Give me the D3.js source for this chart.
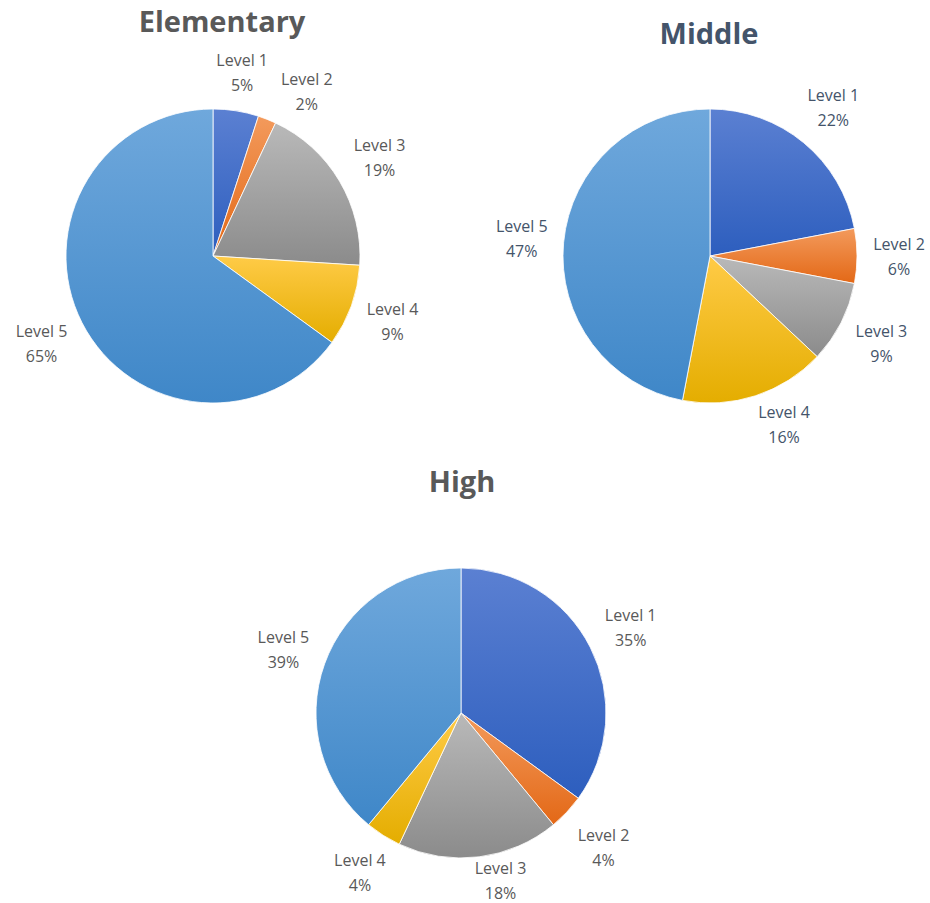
<!DOCTYPE html>
<html>
<head>
<meta charset="utf-8">
<script src="https://cdn.jsdelivr.net/npm/d3@7"></script>
<style>
  html, body { margin: 0; padding: 0; background: #fff; }
  svg { display: block; }
</style>
</head>
<body>
<svg id="chart" width="930" height="903"></svg>
<script>
// Share of students at each level, by school type (percent)
const levels = ["Level 1", "Level 2", "Level 3", "Level 4", "Level 5"];
const elementaryValues = [5, 2, 19, 9, 65];
const middleValues = [22, 6, 9, 16, 47];
const highValues = [35, 4, 18, 4, 39];
const chartTitles = ["Elementary", "Middle", "High"];

// Gradient stops (top, bottom) for each level
const levelColors = [
  ["#5B80D2", "#2D5EBE"],
  ["#F39A5C", "#E36816"],
  ["#B9B9B9", "#8B8B8B"],
  ["#FFCB47", "#E4AD00"],
  ["#6FA8DC", "#3F87C8"]
];

const W = 930, H = 903;
const svg = d3.select("#chart");
svg.append("rect").attr("width", W).attr("height", H).attr("fill", "#fff");

const defs = svg.append("defs");
levelColors.forEach((c, i) => {
  const g = defs.append("linearGradient")
    .attr("id", "lvl" + i)
    .attr("x1", 0).attr("y1", 0).attr("x2", 0).attr("y2", 1);
  g.append("stop").attr("offset", "0%").attr("stop-color", c[0]);
  g.append("stop").attr("offset", "100%").attr("stop-color", c[1]);
});

// Each pie sits in its own chart area; `bottom` is that area's lower edge.
const charts = [
  { title: chartTitles[0], values: elementaryValues, cx: 213, cy: 256, r: 147, tx: 222, ty: 32, bottom: 449, color: "#595959" },
  { title: chartTitles[1], values: middleValues, cx: 710, cy: 256, r: 147, tx: 709, ty: 44, bottom: 449, color: "#44546A" },
  { title: chartTitles[2], values: highValues, cx: 461, cy: 713, r: 145, tx: 462, ty: 492, bottom: 905, color: "#595959" }
];

const pie = d3.pie().sort(null).value(d => d.value);
const labelFont = "'Open Sans', 'Noto Sans', sans-serif";
const gap = 14, hw = 28, hh = 25, pad = 8;
const maxSlide = 5 * Math.PI / 180;

charts.forEach(ch => {
  const data = levels.map((name, i) => ({ name, value: ch.values[i], idx: i }));
  const arcs = pie(data);
  const arc = d3.arc().innerRadius(0).outerRadius(ch.r);

  const g = svg.append("g").attr("transform", `translate(${ch.cx},${ch.cy})`);
  g.selectAll("path").data(arcs).join("path")
    .attr("d", arc)
    .attr("fill", d => `url(#lvl${d.data.idx})`)
    .attr("stroke", "#fff")
    .attr("stroke-width", 0.8);

  svg.append("text")
    .attr("x", ch.tx).attr("y", ch.ty)
    .attr("text-anchor", "middle")
    .attr("font-family", labelFont)
    .attr("font-weight", 700)
    .attr("font-size", 29)
    .attr("fill", ch.color)
    .text(ch.title);

  // Outside-end labels: box edge sits a fixed gap beyond the rim,
  // nudged clockwise when it would collide with an earlier label,
  // and kept inside the chart area.
  const placed = [];
  const boxAt = a => {
    const ux = Math.sin(a), uy = -Math.cos(a);
    const dist = Math.min(
      Math.abs(ux) > 1e-6 ? hw / Math.abs(ux) : Infinity,
      Math.abs(uy) > 1e-6 ? hh / Math.abs(uy) : Infinity);
    const R = ch.r + gap + dist;
    return { x: ch.cx + R * ux, y: ch.cy + R * uy };
  };
  const overlaps = b => placed.some(p =>
    Math.abs(p.x - b.x) < 2 * hw + pad && Math.abs(p.y - b.y) < 2 * hh);
  const maxY = ch.bottom - hh;

  arcs.forEach(d => {
    let a = (d.startAngle + d.endAngle) / 2;
    let b = boxAt(a);
    let guard = 0;
    while (overlaps(b) && guard < 200) { a += 0.005; b = boxAt(a); guard++; }
    if (b.y > maxY) {
      // slide along the rim toward the side first, then clamp
      const dir = Math.sin(a) >= 0 ? -1 : 1;
      const a0 = a;
      while (b.y > maxY && Math.abs(a - a0) < maxSlide) { a += dir * 0.005; b = boxAt(a); }
      b.y = Math.min(b.y, maxY);
    }
    placed.push(b);

    const t = svg.append("text")
      .attr("text-anchor", "middle")
      .attr("font-family", labelFont)
      .attr("font-size", 16)
      .attr("fill", ch.color);
    t.append("tspan").attr("x", b.x).attr("y", b.y - 6).text(d.data.name);
    t.append("tspan").attr("x", b.x).attr("y", b.y + 19).text(d.data.value + "%");
  });
});
</script>
</body>
</html>
